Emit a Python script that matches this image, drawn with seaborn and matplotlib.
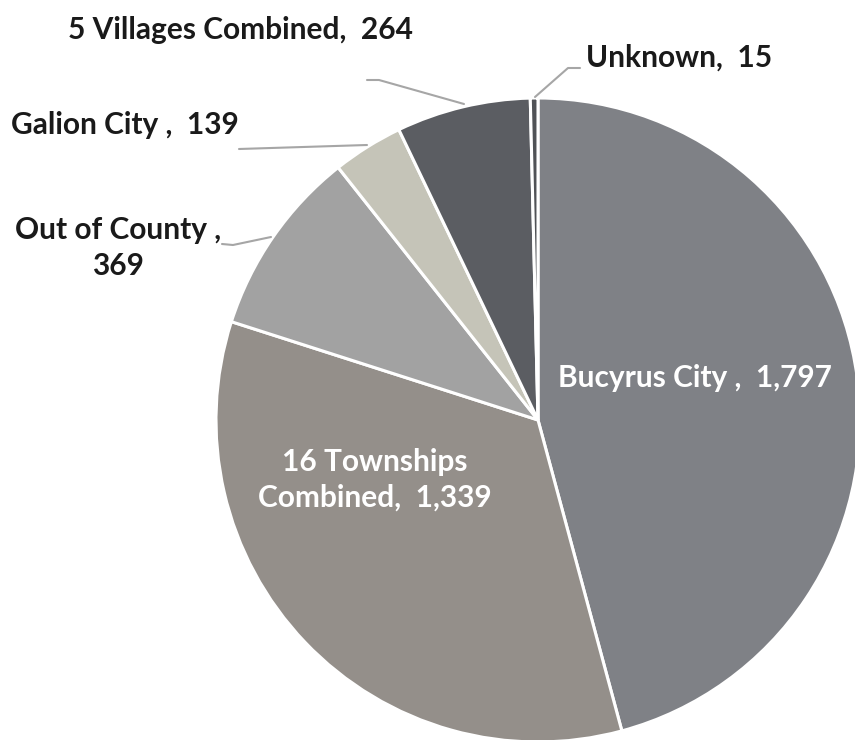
import matplotlib
matplotlib.use("Agg")
import matplotlib.pyplot as plt
import seaborn as sns

# Residence of clients (counts)
areas = ["Bucyrus City", "16 Townships Combined", "Out of County",
         "Galion City", "5 Villages Combined", "Unknown"]
counts = [1797, 1339, 369, 139, 264, 15]
label_text = ["Bucyrus City ,  1,797", "16 Townships\nCombined,  1,339",
              "Out of County ,\n369", "Galion City ,  139",
              "5 Villages Combined,  264", "Unknown,  15"]
slice_colors = ["#7f8186", "#948f8a", "#a2a2a2", "#c5c4b8", "#5b5d62", "#505256"]

sns.set_theme(style="white")
plt.rcParams['font.family'] = ['Lato', 'DejaVu Sans']

fig = plt.figure(figsize=(8.55, 7.4), dpi=100)
ax = fig.add_axes([0, 0, 1, 1])

wedges, _ = ax.pie(counts, colors=slice_colors, startangle=90, counterclock=False,
                   radius=1.0, wedgeprops=dict(edgecolor="white", linewidth=2.2))

# pixel -> data (center at 538,420 px, radius 322 px)
def px(x, y):
    return (x - 538) / 322, (420 - y) / 322

txt = dict(fontsize=21.5, fontweight="bold")
ax.text(*px(695, 378), label_text[0], color="white", ha="center", va="center", **txt)
ax.text(*px(375, 480), label_text[1], color="white", ha="center", va="center",
        linespacing=1.35, **txt)
ax.text(*px(118, 248), label_text[2], color="#1a1a1a", ha="center", va="center",
        linespacing=1.35, **txt)
ax.text(*px(125, 125), label_text[3], color="#1a1a1a", ha="center", va="center", **txt)
ax.text(*px(241, 30), label_text[4], color="#1a1a1a", ha="center", va="center", **txt)
ax.text(*px(679, 58), label_text[5], color="#1a1a1a", ha="center", va="center", **txt)

# leader lines
leaders = [
    [(367, 80), (379, 80), (464, 104)],
    [(239, 149), (367, 145)],
    [(222, 244), (233, 245), (271, 237)],
    [(535, 97), (568, 68), (580, 68)],
]
for pts in leaders:
    xs, ys = zip(*[px(*p) for p in pts])
    ax.plot(xs, ys, color="#a6a6a6", lw=1.5)

ax.set_xlim(-538 / 322, (855 - 538) / 322)
ax.set_ylim(-(740 - 420) / 322, 420 / 322)
ax.set_aspect("auto")
ax.axis("off")

fig.savefig("out.png", dpi=100, facecolor="white")
